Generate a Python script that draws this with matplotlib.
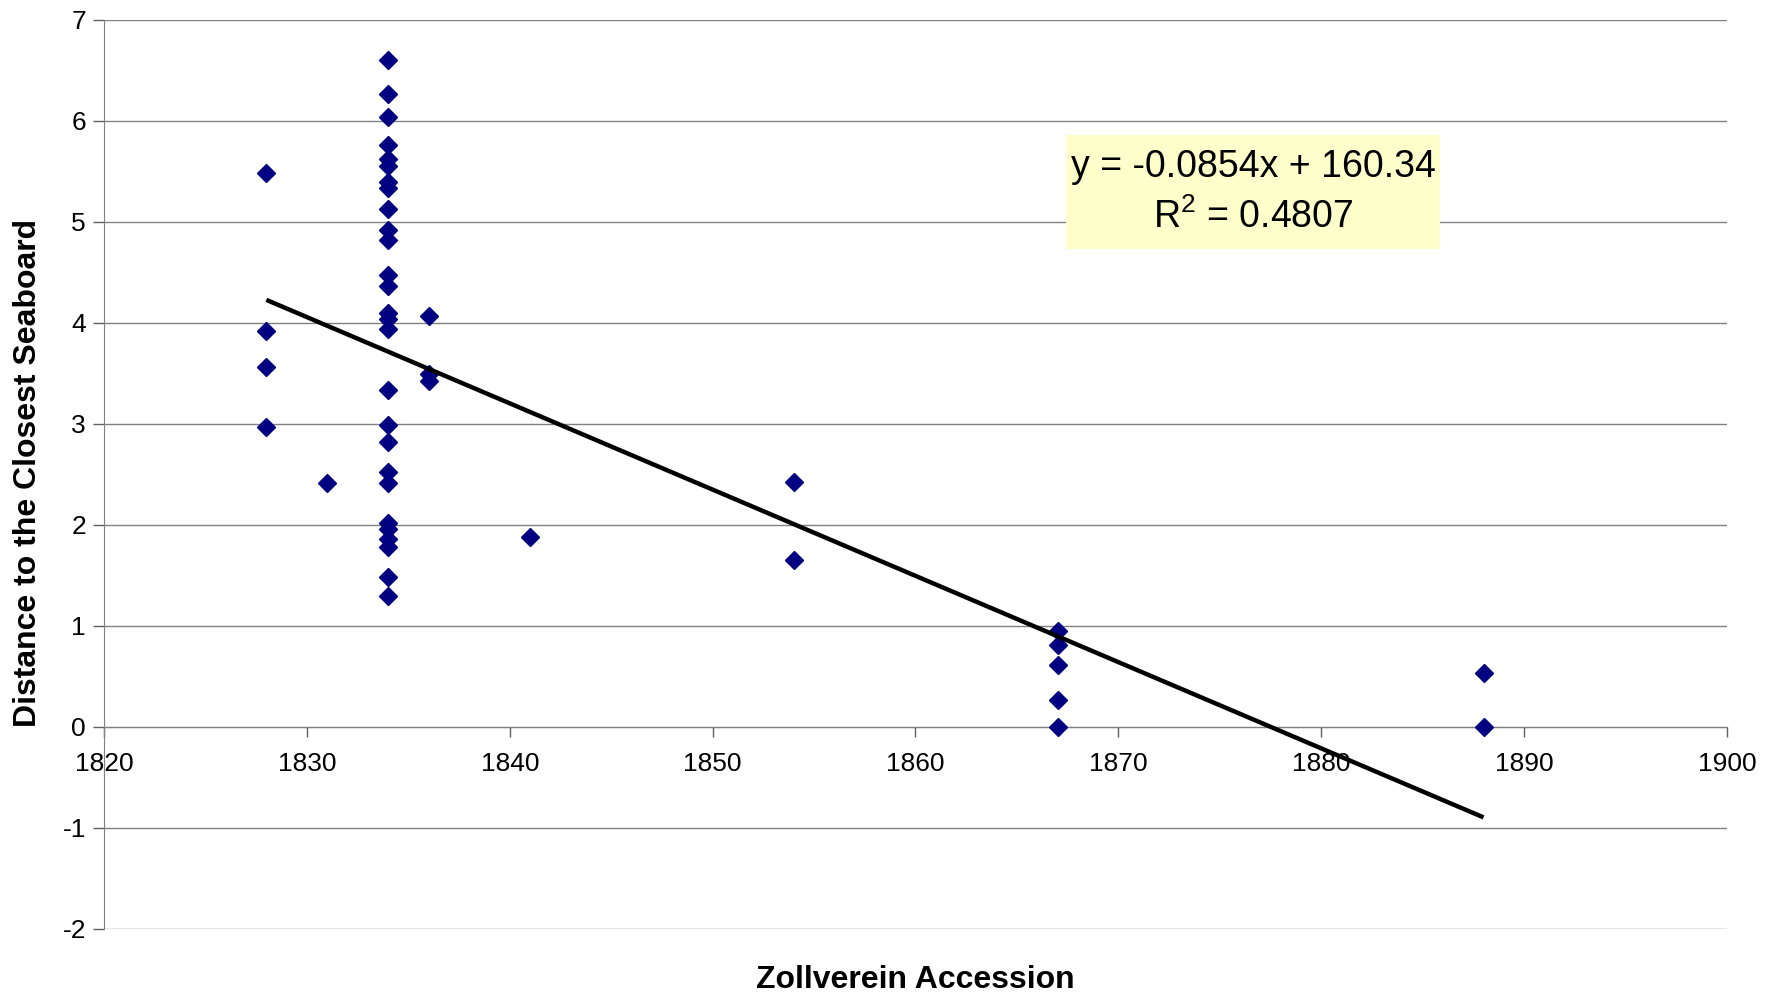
import numpy as np
import matplotlib
matplotlib.use('Agg')
import matplotlib.pyplot as plt
from matplotlib.patches import Rectangle

plt.rcParams['font.family'] = ['Liberation Sans', 'DejaVu Sans']
plt.rcParams['mathtext.fontset'] = 'custom'
plt.rcParams['mathtext.rm'] = 'Liberation Sans'
plt.rcParams['axes.unicode_minus'] = False

# Zollverein accession year and distance to the closest seaboard
years_1834 = [1834] * 27
dist_1834 = [6.60, 6.27, 6.04, 5.76, 5.62, 5.55, 5.40, 5.34, 5.13, 4.92, 4.82,
             4.47, 4.37, 4.10, 4.04, 3.94, 3.34, 2.99, 2.82, 2.52, 2.42, 2.02,
             1.96, 1.86, 1.78, 1.48, 1.30]
years_other = [1828, 1828, 1828, 1828, 1831, 1836, 1836, 1836, 1841, 1854, 1854,
               1867, 1867, 1867, 1867, 1867, 1888, 1888]
dist_other = [5.48, 3.92, 3.56, 2.97, 2.42, 4.07, 3.49, 3.43, 1.88, 2.43, 1.65,
              0.95, 0.81, 0.61, 0.27, 0.00, 0.53, 0.00]

years = np.array(years_1834 + years_other, dtype=float)
dist = np.array(dist_1834 + dist_other)

# trend line as printed on the chart
slope = -0.0854
intercept = 160.34
r2 = 0.4807
eq_line = "y = %.4fx + %.2f" % (slope, intercept)
r2_line = "R$^2$ = %.4f" % r2

fig = plt.figure(figsize=(17.78, 9.93), dpi=100)
ax = fig.add_axes([0.0585, 0.0645, 0.9128, 0.9154])

# horizontal gridlines
for yv in range(-2, 8):
    ax.axhline(yv, color='#808080', lw=1.0, zorder=1)

ax.plot(years, dist, linestyle='none', marker='D', color='#000080',
        markersize=9, zorder=3)

xs = np.array([years.min(), years.max()])
ax.plot(xs, slope * xs + intercept, color='black', lw=3.2, zorder=4,
        solid_capstyle='butt')

ax.set_xlim(1820, 1900)
ax.set_ylim(-2, 7)
ax.set_xticks(range(1820, 1901, 10))
ax.set_yticks(range(-2, 8))

ax.spines['top'].set_visible(False)
ax.spines['right'].set_visible(False)
ax.spines['bottom'].set_position(('data', 0))
ax.spines['bottom'].set_color('#808080')
ax.spines['left'].set_color('#808080')
ax.spines['bottom'].set_zorder(2)
ax.tick_params(axis='x', direction='out', length=7, width=1, color='#606060',
               labelsize=19, pad=11)
ax.tick_params(axis='y', direction='out', length=8, width=1, color='#606060',
               labelsize=19, pad=5)

fig.text(0.515, 0.013, 'Zollverein Accession', ha='center', va='center',
         fontsize=23, fontweight='bold')
fig.text(0.016, 0.524, 'Distance to the Closest Seaboard', ha='center',
         va='center', rotation=90, fontsize=23, fontweight='bold')

# trend line label box
ax.add_patch(Rectangle((0.5927, 0.748), 0.2305, 0.1255, transform=ax.transAxes,
                       facecolor='#FFFFCC', edgecolor='none', zorder=5))
ax.text(0.708, 0.8276, eq_line, transform=ax.transAxes, ha='center',
        va='baseline', fontsize=27, zorder=6)
ax.text(0.708, 0.7708, r2_line, transform=ax.transAxes, ha='center',
        va='baseline', fontsize=27, zorder=6)

plt.savefig('out.png', dpi=100)
plt.close()
